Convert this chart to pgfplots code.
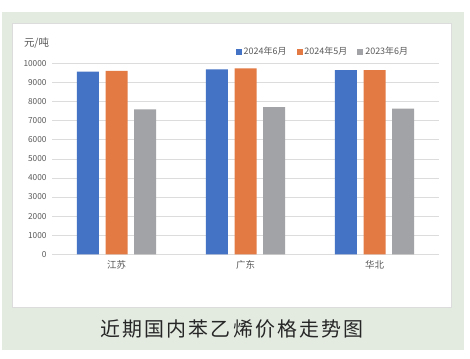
\documentclass[border=0pt]{standalone}
\usepackage{pgfplots}
\pgfplotsset{compat=1.18}
\usepackage{fontspec}
\setmainfont{Noto Sans CJK SC}
\newfontfamily\titlefont[LetterSpace=11]{Noto Sans CJK SC}
\definecolor{bgGreen}{HTML}{E3EBE1}
\definecolor{cBlue}{HTML}{4472C4}
\definecolor{cOrange}{HTML}{E37A43}
\definecolor{cGray}{HTML}{A2A3A6}
\definecolor{gridC}{HTML}{DCDCDC}
\definecolor{txtC}{HTML}{595959}
\begin{document}
\begin{tikzpicture}[x=1bp,y=1bp]
\useasboundingbox (0,0) rectangle (470,358);
\fill[white] (0,0) rectangle (470,358);
\fill[bgGreen] (2,8) rectangle (464,346);
\filldraw[fill=white,draw=gridC,line width=0.6bp] (12.7,51) rectangle (451.5,334.7);
\node[font=\titlefont\fontsize{20}{22}\selectfont, text=black!85] at (232,29) {近期国内苯乙烯价格走势图};
\node[font=\fontsize{10.5}{11}\selectfont, text=txtC, anchor=west] at (20.5,315.3) {元/吨};
\begin{axis}[
  at={(52bp,103.7bp)}, anchor=south west,
  scale only axis, width=387bp, height=191bp,
  ymin=0, ymax=10000, xmin=-0.5, xmax=2.5,
  ytick={0,1000,...,10000},
  xtick={0,1,2}, xticklabels={江苏,广东,华北},
  ybar=6.6bp, bar width=22bp,
  axis x line*=bottom, axis y line*=left,
  x axis line style={draw=gridC, line width=0.8bp, -},
  y axis line style={draw=none},
  ymajorgrids, grid style={draw=gridC, line width=0.6bp},
  major tick length=0pt,
  tick style={draw=none},
  scaled y ticks=false,
  /pgf/number format/assume math mode=true,
  yticklabel={\pgfmathprintnumber[fixed,1000 sep={}]{\tick}},
  yticklabel style={font=\fontsize{8.3}{9}\selectfont, text=txtC, xshift=-2bp},
  xticklabel style={font=\fontsize{9.5}{10}\selectfont, text=txtC, yshift=-3bp},
  legend columns=3,
  legend style={at={(0.70,1)}, anchor=south, yshift=3bp, draw=none, fill=none,
    font=\fontsize{9}{10}\selectfont, text=txtC,
    /tikz/every even column/.append style={column sep=8bp}},
  legend image code/.code={\fill[#1] (0bp,-3bp) rectangle (6bp,3bp);},
]
\addplot[fill=cBlue, draw=none] coordinates {(0,9560) (1,9686) (2,9649)};
\addplot[fill=cOrange, draw=none] coordinates {(0,9597) (1,9738) (2,9649)};
\addplot[fill=cGray, draw=none] coordinates {(0,7592) (1,7712) (2,7623)};
\legend{2024年6月,2024年5月,2023年6月}
\end{axis}
\end{tikzpicture}
\end{document}
